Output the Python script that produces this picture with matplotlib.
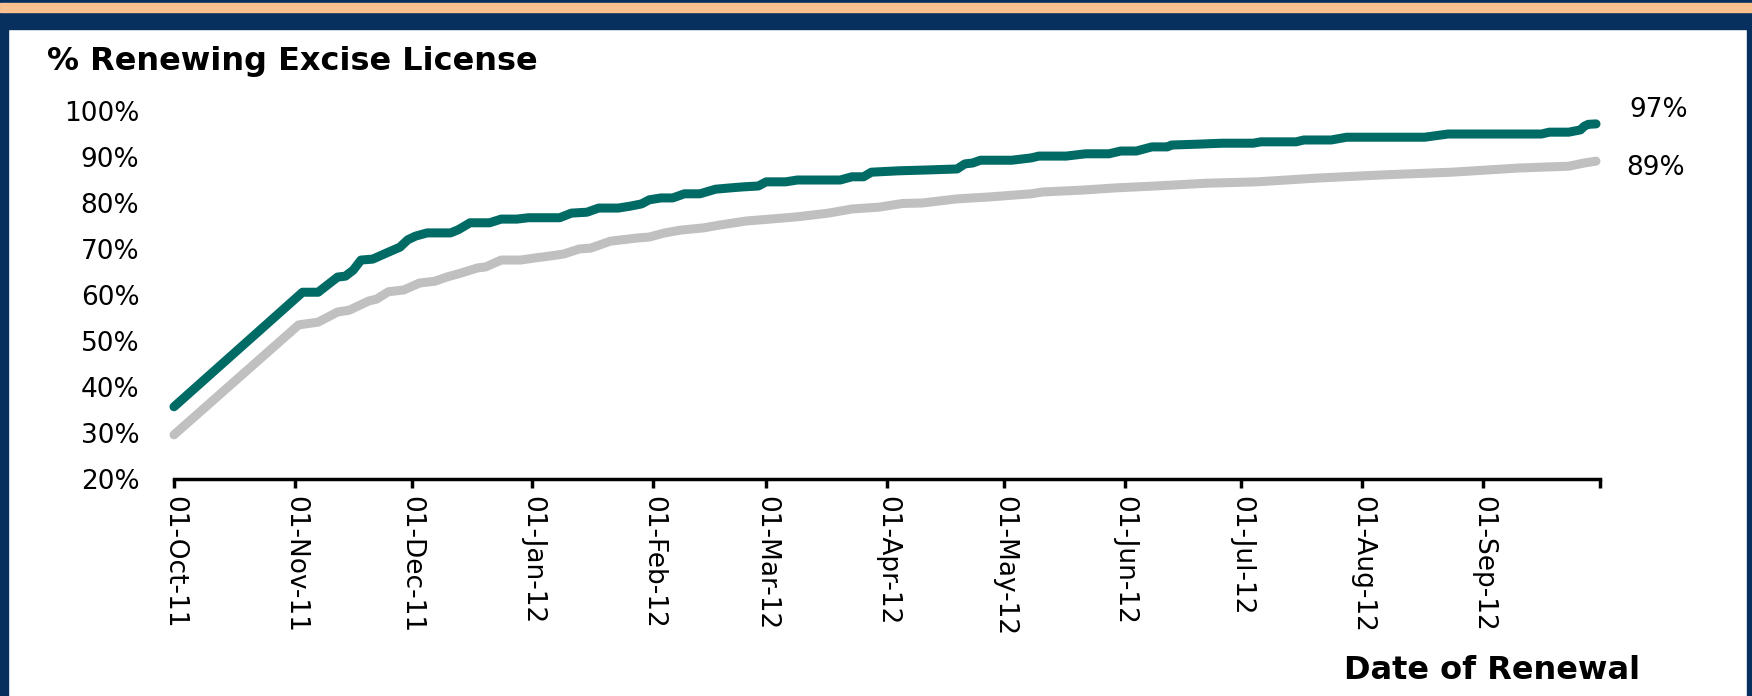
"""
Cumulative % renewing excise license, Oct 2011 - Sep 2012
"""
import matplotlib.pyplot as plt
import pandas as pd
from matplotlib.patches import Rectangle

# current year (teal)
teal_dates = ["2011-10-01", "2011-11-03", "2011-11-07", "2011-11-12", "2011-11-14",
              "2011-11-16", "2011-11-18", "2011-11-21", "2011-11-25", "2011-11-28",
              "2011-11-30", "2011-12-02", "2011-12-05", "2011-12-11", "2011-12-13",
              "2011-12-16", "2011-12-21", "2011-12-24", "2011-12-28", "2011-12-31",
              "2012-01-08", "2012-01-11", "2012-01-15", "2012-01-18", "2012-01-23",
              "2012-01-26", "2012-01-29", "2012-01-31", "2012-02-03", "2012-02-06",
              "2012-02-09", "2012-02-13", "2012-02-17", "2012-02-21", "2012-02-24",
              "2012-02-28", "2012-03-01", "2012-03-06", "2012-03-09", "2012-03-20",
              "2012-03-23", "2012-03-26", "2012-03-28", "2012-04-04", "2012-04-12",
              "2012-04-19", "2012-04-21", "2012-04-23", "2012-04-25", "2012-05-03",
              "2012-05-08", "2012-05-10", "2012-05-17", "2012-05-22", "2012-05-28",
              "2012-05-31", "2012-06-04", "2012-06-08", "2012-06-12", "2012-06-13",
              "2012-06-20", "2012-06-26", "2012-07-04", "2012-07-06", "2012-07-15",
              "2012-07-17", "2012-07-24", "2012-07-28", "2012-08-17", "2012-08-23",
              "2012-09-16", "2012-09-18", "2012-09-23", "2012-09-26", "2012-09-27",
              "2012-09-28", "2012-09-30"]
teal_pct = [35.7, 60.6, 60.6, 63.9, 64.1,
            65.4, 67.6, 67.8, 69.3, 70.4,
            72.0, 72.8, 73.5, 73.5, 74.2,
            75.7, 75.7, 76.5, 76.5, 76.8,
            76.8, 77.8, 78.0, 78.9, 78.9,
            79.3, 79.8, 80.7, 81.1, 81.1,
            82.0, 82.0, 83.0, 83.3, 83.5,
            83.7, 84.6, 84.6, 85.0, 85.0,
            85.7, 85.7, 86.7, 87.0, 87.2,
            87.4, 88.5, 88.7, 89.3, 89.3,
            89.8, 90.2, 90.2, 90.7, 90.7,
            91.3, 91.3, 92.2, 92.2, 92.6,
            92.8, 93.0, 93.0, 93.3, 93.3,
            93.7, 93.7, 94.3, 94.3, 95.0,
            95.0, 95.4, 95.4, 95.9, 96.7,
            97.1, 97.2]

# prior year (grey)
grey_dates = ["2011-10-01", "2011-11-02", "2011-11-07", "2011-11-12", "2011-11-15",
              "2011-11-20", "2011-11-22", "2011-11-25", "2011-11-29", "2011-12-03",
              "2011-12-07", "2011-12-10", "2011-12-13", "2011-12-18", "2011-12-20",
              "2011-12-24", "2011-12-29", "2012-01-02", "2012-01-04", "2012-01-09",
              "2012-01-13", "2012-01-16", "2012-01-21", "2012-01-24", "2012-01-28",
              "2012-01-31", "2012-02-04", "2012-02-08", "2012-02-14", "2012-02-18",
              "2012-02-25", "2012-03-02", "2012-03-09", "2012-03-17", "2012-03-23",
              "2012-03-30", "2012-04-05", "2012-04-10", "2012-04-19", "2012-04-27",
              "2012-05-08", "2012-05-11", "2012-05-21", "2012-05-30", "2012-06-09",
              "2012-06-22", "2012-07-05", "2012-07-20", "2012-08-06", "2012-08-24",
              "2012-09-10", "2012-09-23", "2012-09-27", "2012-09-30"]
grey_pct = [29.6, 53.5, 54.1, 56.3, 56.7,
            58.7, 59.1, 60.7, 61.1, 62.6,
            63.0, 63.9, 64.6, 65.9, 66.1,
            67.6, 67.6, 68.1, 68.3, 68.9,
            70.0, 70.2, 71.7, 72.0, 72.4,
            72.6, 73.5, 74.1, 74.6, 75.2,
            76.1, 76.5, 77.0, 77.8, 78.7,
            79.1, 79.9, 80.0, 80.9, 81.3,
            82.0, 82.4, 82.8, 83.3, 83.7,
            84.3, 84.6, 85.4, 86.1, 86.7,
            87.6, 88.0, 88.7, 89.1]

y_ticks = [20, 30, 40, 50, 60, 70, 80, 90, 100]
month_ticks = pd.date_range("2011-10-01", "2012-10-01", freq="MS")

navy = "#07305F"
teal = "#006A65"
grey = "#C0C0C0"

fig = plt.figure(figsize=(17.52, 6.96), dpi=100)

# frame around the slide
fig.patches.append(Rectangle((0, 1 - 29 / 696), 1, 29 / 696, transform=fig.transFigure,
                             color=navy, zorder=0))
fig.patches.append(Rectangle((0, 1 - 12 / 696), 1, 9 / 696, transform=fig.transFigure,
                             color="#FAC090", zorder=1))
fig.patches.append(Rectangle((0, 0), 8 / 1752, 1, transform=fig.transFigure,
                             color=navy, zorder=0))
fig.patches.append(Rectangle((1 - 5 / 1752, 0), 5 / 1752, 1, transform=fig.transFigure,
                             color=navy, zorder=0))

ax = fig.add_axes([0.0993, 0.3118, 0.8139, 0.5287])
ax.plot(pd.to_datetime(grey_dates), grey_pct, color=grey, lw=6.5,
        solid_capstyle="round", solid_joinstyle="round", clip_on=False)
ax.plot(pd.to_datetime(teal_dates), teal_pct, color=teal, lw=6.5,
        solid_capstyle="round", solid_joinstyle="round", clip_on=False)

ax.set_xlim(month_ticks[0], month_ticks[-1])
ax.set_ylim(20, 100)
ax.set_yticks(y_ticks)
ax.set_yticklabels([f"{v}%" for v in y_ticks])
ax.set_xticks(month_ticks)
ax.set_xticklabels([d.strftime("%d-%b-%y") for d in month_ticks[:-1]] + [""],
                   rotation=-90, ha="center", va="top")

for s in ["top", "right", "left"]:
    ax.spines[s].set_visible(False)
ax.spines["bottom"].set_linewidth(2.5)
ax.tick_params(axis="x", direction="out", length=6.5, width=2.5, pad=6, labelsize=19)
ax.tick_params(axis="y", length=0, pad=25, labelsize=19)

fig.text(0.0268, 0.911, "% Renewing Excise License", fontsize=23, fontweight="bold",
         va="center", ha="left")
fig.text(0.936, 0.037, "Date of Renewal", fontsize=23, fontweight="bold",
         va="center", ha="right")
fig.text(0.930, 0.842, f"{teal_pct[-1]:.0f}%", fontsize=19, va="center", ha="left")
fig.text(0.928, 0.759, f"{grey_pct[-1]:.0f}%", fontsize=19, va="center", ha="left")

plt.savefig("out.png", dpi=100, facecolor="white")
